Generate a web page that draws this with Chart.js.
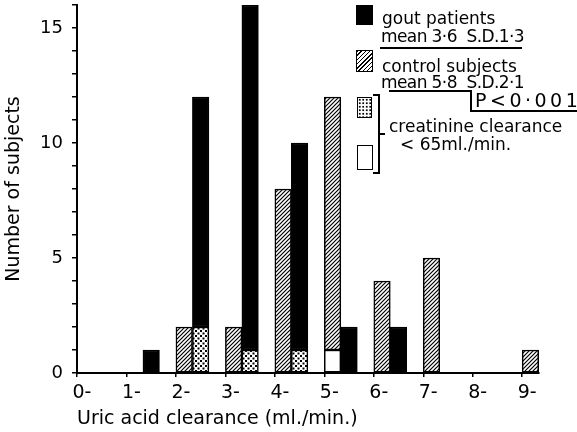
<!DOCTYPE html>
<html><head><meta charset="utf-8">
<script src="https://cdn.jsdelivr.net/npm/chart.js@4.4.1/dist/chart.umd.min.js"></script>
<style>
html,body{margin:0;padding:0;background:#fff;}
#wrap{position:relative;width:577px;height:432px;overflow:hidden;font-family:"DejaVu Sans",sans-serif;color:#000;}
#c{position:absolute;left:0;top:0;}
.sw{position:absolute;border:1.5px solid #000;box-sizing:border-box;}
.t{position:absolute;white-space:nowrap;font-size:17px;line-height:17px;}
.m{letter-spacing:-0.6px;}
.hl{position:absolute;background:#000;}
.hatch{background:repeating-linear-gradient(-45deg,#000 0 1px,#fff 1px 3px);}
.dots{background:#fff radial-gradient(circle,#000 0.9px,transparent 1.2px) 0 0/3.5px 3.5px;}
</style></head>
<body><div id="wrap">
<canvas id="c" width="577" height="432"></canvas>
<div class="sw" style="left:356px;top:5px;width:17px;height:20px;background:#000"></div>
<div class="t" style="left:382px;top:10px">gout patients</div>
<div class="t m" style="left:381px;top:28px">mean 3·6&nbsp; S.D.1·3</div>
<div class="hl" style="left:380px;top:47px;width:142px;height:1.5px"></div>
<div class="sw hatch" style="left:356px;top:50px;width:17px;height:22px"></div>
<div class="t" style="left:382px;top:58px">control subjects</div>
<div class="t m" style="left:381px;top:74px">mean 5·8&nbsp; S.D.2·1</div>
<div class="hl" style="left:389px;top:90px;width:82px;height:1.5px"></div>
<div class="hl" style="left:470px;top:90px;width:1.5px;height:21px"></div>
<div class="hl" style="left:470px;top:110px;width:107px;height:1.5px"></div>
<div class="t" style="left:475px;top:91px;font-size:19px;line-height:19px;letter-spacing:3.5px">P&lt;0·001</div>
<div class="sw dots" style="left:357px;top:97px;width:15px;height:21px"></div>
<div class="hl" style="left:378px;top:94px;width:1.5px;height:80px"></div>
<div class="hl" style="left:373px;top:94px;width:6px;height:1.5px"></div>
<div class="hl" style="left:373px;top:172px;width:6px;height:1.5px"></div>
<div class="hl" style="left:379px;top:133px;width:6px;height:1.5px"></div>
<div class="t" style="left:389px;top:118px">creatinine clearance</div>
<div class="t" style="left:400px;top:136px">&lt; 65ml./min.</div>
<div class="sw" style="left:357px;top:145px;width:16px;height:25px;background:#fff"></div>
</div>
<script>
// ---- data ----
const bins = [0, 1, 2, 3, 4, 5, 6, 7, 8, 9];
const xTickLabels = ['0-', '1-', '2-', '3-', '4-', '5-', '6-', '7-', '8-', '9-'];
const goutTotal = [0, 1, 12, 16, 10, 2, 2, 0, 0, 0];
const goutLowCrCl = [0, 0, 2, 1, 1, 0, 0, 0, 0, 0];
const controlTotal = [0, 0, 2, 2, 8, 12, 4, 5, 0, 1];
const controlLowCrCl = [0, 0, 0, 0, 0, 1, 0, 0, 0, 0];
const yTickValues = [0, 5, 10, 15];
const yTickLabels = ['0', '5', '10', '15'];

const FAMILY = '"DejaVu Sans", sans-serif';

function hatchPattern() {
  const c = document.createElement('canvas'); c.width = 4; c.height = 4;
  const g = c.getContext('2d');
  g.fillStyle = '#fff'; g.fillRect(0, 0, 4, 4);
  g.strokeStyle = '#000'; g.lineWidth = 1.2;
  g.beginPath();
  g.moveTo(0, 4); g.lineTo(4, 0);
  g.moveTo(-1, 1); g.lineTo(1, -1);
  g.moveTo(3, 5); g.lineTo(5, 3);
  g.stroke();
  return g.createPattern(c, 'repeat');
}
function stipplePattern() {
  const c = document.createElement('canvas'); c.width = 5; c.height = 5;
  const g = c.getContext('2d');
  g.fillStyle = '#fff'; g.fillRect(0, 0, 5, 5);
  g.fillStyle = '#000';
  g.fillRect(0, 0, 2, 2); g.fillRect(2.5, 2.5, 2, 2);
  return g.createPattern(c, 'repeat');
}

const ctrlOffset = 1 / 6, goutOffset = 1 / 2; // sub-position of each group inside its bin
const toPts = (vals, off) => bins.map((b, i) => ({ x: b + off, y: vals[i] }));

new Chart(document.getElementById('c'), {
  type: 'bar',
  data: {
    datasets: [
      { label: 'control, creatinine clearance < 65ml./min.', data: toPts(controlLowCrCl, ctrlOffset), backgroundColor: '#fff', stack: 'control' },
      { label: 'control subjects', data: toPts(controlTotal.map((v, i) => v - controlLowCrCl[i]), ctrlOffset), backgroundColor: hatchPattern(), stack: 'control' },
      { label: 'gout, creatinine clearance < 65ml./min.', data: toPts(goutLowCrCl, goutOffset), backgroundColor: stipplePattern(), stack: 'gout' },
      { label: 'gout patients', data: toPts(goutTotal.map((v, i) => v - goutLowCrCl[i]), goutOffset), backgroundColor: '#000', stack: 'gout' }
    ]
  },
  options: {
    responsive: false,
    animation: false,
    devicePixelRatio: 1,
    layout: { padding: { left: 0, right: 38, top: 5, bottom: 0 } },
    plugins: { legend: { display: false }, tooltip: { enabled: false } },
    datasets: { bar: { grouped: false, categoryPercentage: 1, barPercentage: 1, borderColor: '#000', borderWidth: 1.5, borderSkipped: false } },
    scales: {
      x: {
        type: 'linear', min: 0, max: 9.34, offset: false, stacked: true,
        afterBuildTicks: s => { s.ticks = bins.map(v => ({ value: v })); },
        afterFit: s => { s.height = 59; s.paddingLeft = 0; s.paddingRight = 0; },
        ticks: { callback: (v, i) => xTickLabels[i], color: '#000', font: { family: FAMILY, size: 19 }, padding: 5, labelOffset: 5, maxRotation: 0, autoSkip: false },
        grid: { drawOnChartArea: false, drawTicks: true, tickLength: 4, color: '#000', lineWidth: 1.5, offset: false },
        border: { display: true, color: '#000', width: 2 },
        title: { display: true, text: 'Uric acid clearance (ml./min.)', align: 'start', color: '#000', font: { family: FAMILY, size: 19 }, padding: { top: 0, bottom: 2 } }
      },
      y: {
        min: 0, max: 16, stacked: true,
        afterFit: s => { s.width = 77; s.paddingTop = 0; s.paddingBottom = 0; },
        ticks: { stepSize: 1, autoSkip: false, color: '#000', font: { family: FAMILY, size: 18 }, padding: 9,
          callback: v => { const k = yTickValues.indexOf(v); return k >= 0 ? yTickLabels[k] : ''; } },
        grid: { drawOnChartArea: false, drawTicks: true, tickLength: 5, color: '#000', lineWidth: 1.5 },
        border: { display: true, color: '#000', width: 2 },
        title: { display: true, text: 'Number of subjects', color: '#000', font: { family: FAMILY, size: 19 }, padding: { top: 3, bottom: 0 } }
      }
    }
  }
});
</script>
</body></html>
